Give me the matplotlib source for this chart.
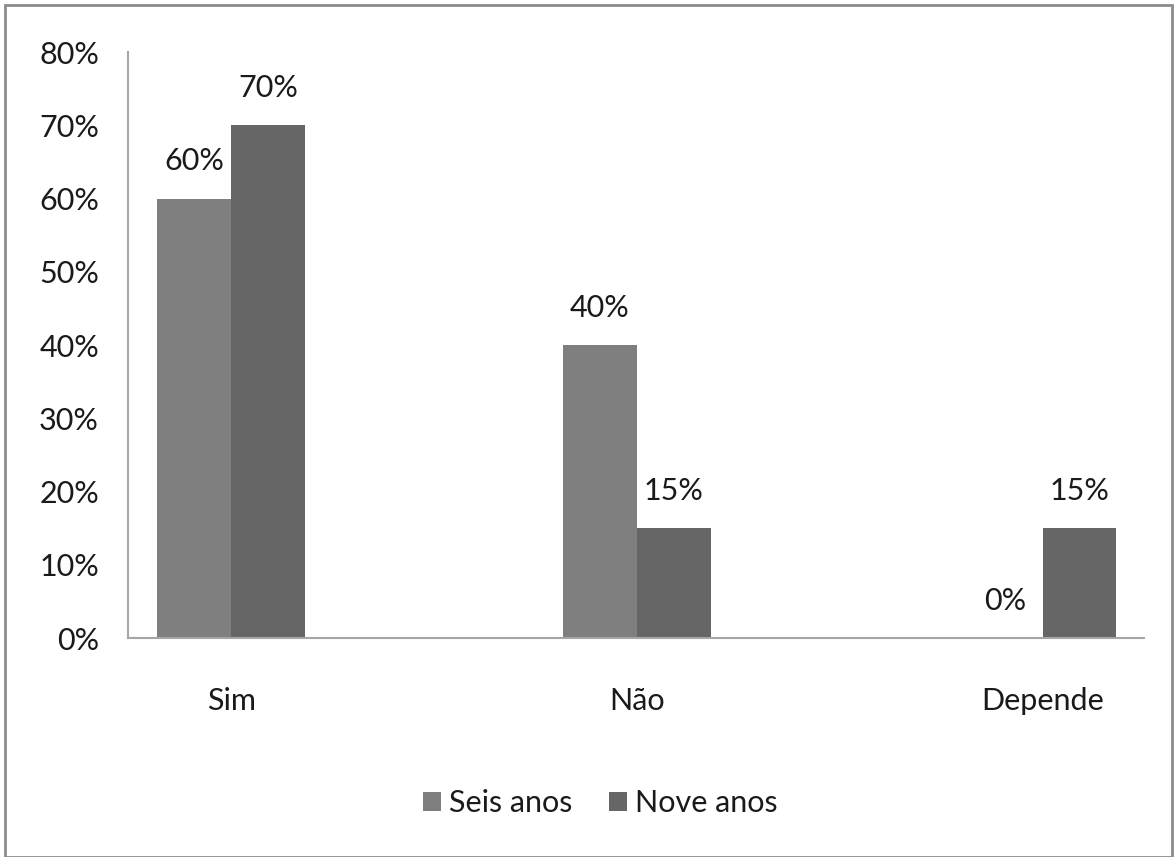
import matplotlib
matplotlib.use("Agg")
import matplotlib.pyplot as plt
from matplotlib.patches import Rectangle
import numpy as np

categories = ["Sim", "Não", "Depende"]
seis_anos = [60, 40, 0]
nove_anos = [70, 15, 15]
series_names = ["Seis anos", "Nove anos"]
yticks = [0, 10, 20, 30, 40, 50, 60, 70, 80]

plt.rcParams['font.family'] = ['Lato', 'DejaVu Sans']

fig = plt.figure(figsize=(11.75, 8.57), dpi=100)
ax = fig.add_axes([0.109, 0.2555, 0.974 - 0.109, 0.9393 - 0.2555])

FS = 22
x = np.arange(len(categories))
w = 0.182
c1, c2 = "#7f7f7f", "#666666"
b1 = ax.bar(x - w / 2, seis_anos, w, color=c1, label=series_names[0])
b2 = ax.bar(x + w / 2, nove_anos, w, color=c2, label=series_names[1])

for xs, vals in ((x - w / 2, seis_anos), (x + w / 2, nove_anos)):
    for xi, v in zip(xs, vals):
        ax.annotate(f"{v}%", (xi, v), xytext=(0, 27), textcoords="offset points",
                    ha="center", va="center", fontsize=FS, color="#1a1a1a")

ax.set_xlim(-0.254, 2.251)
ax.set_ylim(0, 80)
ax.set_yticks(yticks)
ax.set_yticklabels([f"{t}%" for t in yticks])
ax.set_xticks(x)
ax.set_xticklabels(categories)
ax.tick_params(axis='both', length=0, labelsize=FS, colors="#1a1a1a")
ax.tick_params(axis='x', pad=35)
ax.tick_params(axis='y', pad=21)

for s in ("top", "right"):
    ax.spines[s].set_visible(False)
for s in ("left", "bottom"):
    ax.spines[s].set_color("#a6a6a6")
    ax.spines[s].set_linewidth(1.5)

leg = fig.legend(handles=[b1, b2], labels=series_names, loc="center",
                 bbox_to_anchor=(0.511, 1 - 803 / 857), ncol=2, frameon=False,
                 fontsize=FS, handlelength=0.6, handleheight=0.6,
                 handletextpad=0.25, columnspacing=1.2)
for t in leg.get_texts():
    t.set_color("#1a1a1a")

fig.patches.append(Rectangle((5 / 1175, 0), 1 - 8 / 1175, 1 - 5 / 857,
                             transform=fig.transFigure, fill=False,
                             edgecolor="#8c8c8c", linewidth=2))

fig.savefig("out.png", dpi=100)
